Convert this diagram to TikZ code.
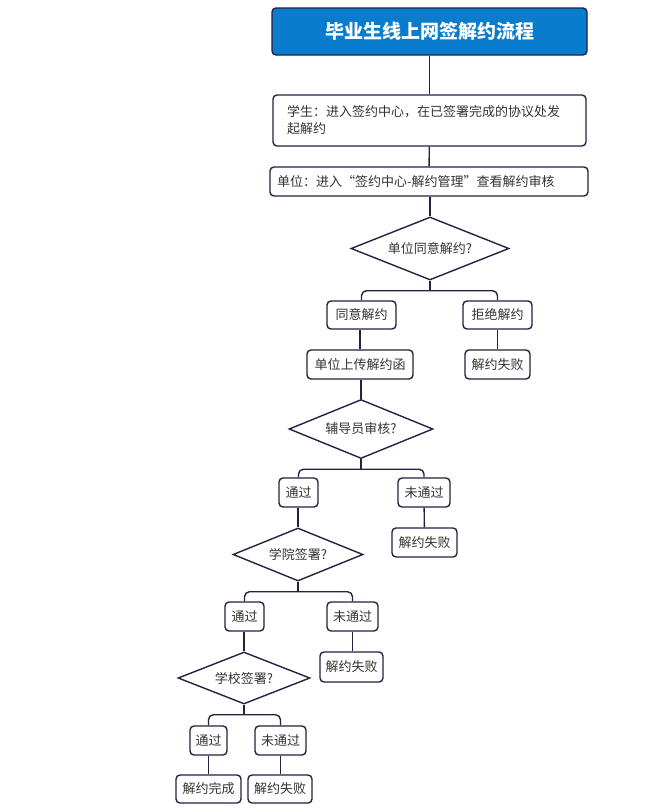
\documentclass[tikz,border=0pt]{standalone}
\usepackage{fontspec}
\setmainfont{Noto Sans CJK SC}
\usepackage{tikz}
\usetikzlibrary{arrows.meta,calc,positioning,shapes.geometric}
\definecolor{titleblue}{RGB}{10,124,205}
\definecolor{lineblue}{RGB}{34,34,66}
\definecolor{textgray}{RGB}{51,51,51}
\begin{document}
\begin{tikzpicture}[x=1pt, y=-1pt,
  box/.style={draw=lineblue, line width=1.4, rounded corners=4, fill=white, text=textgray,
    inner sep=0pt, font=\fontsize{13}{17}\selectfont},
  choice/.style={draw=lineblue, line width=1.4, diamond, aspect=3, inner sep=0pt, text=textgray,
    font=\fontsize{13}{17}\selectfont},
  link/.style={draw=lineblue, line width=1.4},
  fork/.style={draw=lineblue, line width=1.4, rounded corners=5}]
\useasboundingbox (0,0) rectangle (650,811);
% Titre
\node[box, fill=titleblue, text=white, minimum width=315, minimum height=47,
  font=\fontsize{19}{23}\selectfont\bfseries] (titre) at (429.5,31.5) {毕业生线上网签解约流程};
% Etape 1
\node[box, minimum width=313, minimum height=51, text width=285, align=left] (etudiant) at (429.5,120.5)
  {学生：进入签约中心，在已签署完成的协议处发\\起解约};
% Etape 2
\node[box, minimum width=318, minimum height=29, text width=304, align=left] (unite) at (429,181.5)
  {单位：进入“签约中心-解约管理”查看解约审核};
% Decision 1
\node[choice, minimum width=158, minimum height=63] (d1) at (430,248.5) {单位同意解约?};
\node[box, minimum width=69, minimum height=28] (accord) at (361.5,315) {同意解约};
\node[box, minimum width=69, minimum height=28] (refus) at (497.5,315) {拒绝解约};
\node[box, minimum width=106, minimum height=29] (lettre) at (360,364.5) {单位上传解约函};
\node[box, minimum width=65, minimum height=29] (echec1) at (497.5,364.5) {解约失败};
% Decision 2
\node[choice, minimum width=144, minimum height=59] (d2) at (361,429) {辅导员审核?};
\node[box, minimum width=39, minimum height=29] (ok1) at (298.5,492.5) {通过};
\node[box, minimum width=52, minimum height=29] (non1) at (424,492.5) {未通过};
\node[box, minimum width=65, minimum height=29] (echec2) at (424.5,542.5) {解约失败};
% Decision 3
\node[choice, minimum width=130, minimum height=53] (d3) at (298,554.5) {学院签署?};
\node[box, minimum width=39, minimum height=29] (ok2) at (244.5,616.5) {通过};
\node[box, minimum width=51, minimum height=29] (non2) at (352.5,616.5) {未通过};
\node[box, minimum width=63, minimum height=30] (echec3) at (351.5,667) {解约失败};
% Decision 4
\node[choice, minimum width=132, minimum height=52] (d4) at (244,678) {学校签署?};
\node[box, minimum width=37, minimum height=29] (ok3) at (208.5,740.5) {通过};
\node[box, minimum width=51, minimum height=29] (non3) at (280.5,740.5) {未通过};
\node[box, minimum width=65, minimum height=28] (fin) at (208.5,789) {解约完成};
\node[box, minimum width=64, minimum height=28] (echec4) at (280,789) {解约失败};
%Segment 1
\draw[link] (titre) -- (etudiant);
\draw[link] (etudiant) -- (unite);
\draw[link] (unite.south -| d1.north) -- (d1.north);
%Segment 2
\draw[link] (d1.south) -- ++(0,10) coordinate (j1);
\draw[fork] (accord.north) |- (j1) -| (refus.north);
\draw[link] (accord.south -| lettre.north) -- (lettre.north);
\draw[link] (refus) -- (echec1);
\draw[link] (lettre.south -| d2.north) -- (d2.north);
%Segment 3
\draw[link] (d2.south) -- ++(0,10) coordinate (j2);
\draw[fork] (ok1.north) |- (j2) -| (non1.north);
\draw[link] (non1) -- (echec2);
\draw[link] (ok1.south -| d3.north) -- (d3.north);
%Segment 4
\draw[link] (d3.south) -- ++(0,10) coordinate (j3);
\draw[fork] (ok2.north) |- (j3) -| (non2.north);
\draw[link] (non2.south) -- (echec3.north -| non2.south);
\draw[link] (ok2.south -| d4.north) -- (d4.north);
%Segment 5
\draw[link] (d4.south) -- ++(0,10) coordinate (j4);
\draw[fork] (ok3.north) |- (j4) -| (non3.north);
\draw[link] (ok3) -- (fin);
\draw[link] (non3.south) -- (echec4.north -| non3.south);
\end{tikzpicture}
\end{document}
